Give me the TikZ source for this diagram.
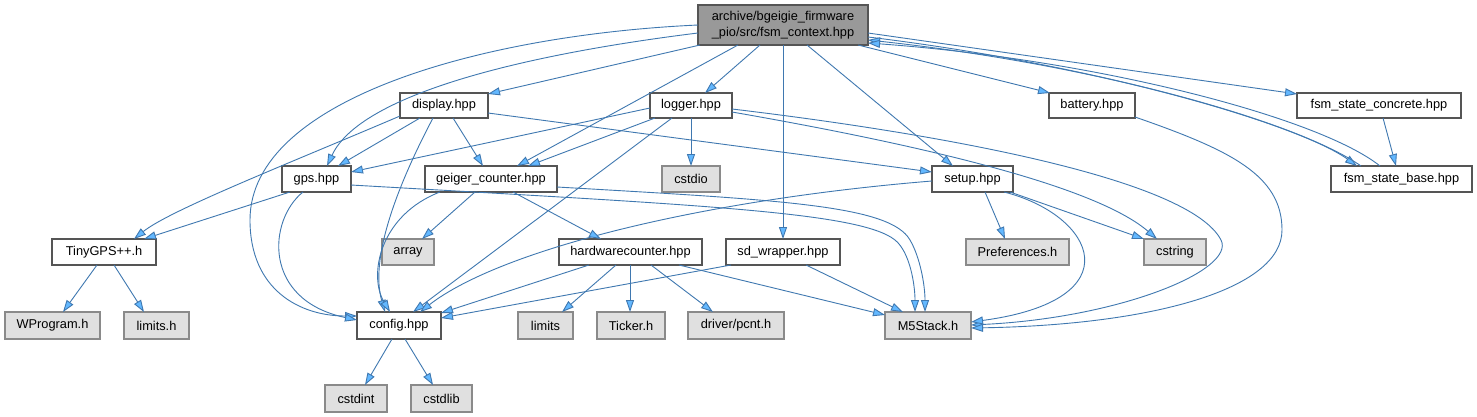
\documentclass[tikz,border=0pt]{standalone}
\usepackage{fontspec}
\setmainfont{Liberation Sans}
\usetikzlibrary{arrows.meta}
\definecolor{edgec}{HTML}{3F78B0}
\definecolor{arrowc}{HTML}{63B8FF}
\definecolor{wborder}{HTML}{555555}
\definecolor{gfill}{HTML}{E0E0E0}
\definecolor{gborder}{HTML}{8A8A8A}
\definecolor{rootfill}{HTML}{999999}
\newcommand\mknode[7]{\node[#1,anchor=north west,minimum width=#4,minimum height=#5] (#6) at (#2,#3) {#7};}
\begin{document}
\begin{tikzpicture}[x=1pt,y=-1pt,
  box/.style={rectangle,inner sep=0pt,outer sep=0pt,line width=1.2pt,font=\fontsize{12.8}{15.5}\selectfont,text=black},
  wbox/.style={box,draw=wborder,fill=white},
  gbox/.style={box,draw=gborder,fill=gfill},
  rbox/.style={box,draw=wborder,fill=rootfill,align=center},
  dep/.style={draw=edgec,line width=0.9pt,-{Triangle[length=12pt,width=8pt,fill=arrowc]}},
]
\useasboundingbox (0,0) rectangle (1477,417);
\fill[white] (0,0) rectangle (1477,417);
% nodes
\mknode{rbox}{698}{5}{170}{40}{root}{archive/bgeigie\_firmware\\\_pio/src/fsm\_context.hpp}
\mknode{wbox}{400}{93}{88}{25}{display}{display.hpp}
\mknode{wbox}{650}{93}{82}{25}{logger}{logger.hpp}
\mknode{wbox}{1049}{93}{86}{25}{battery}{battery.hpp}
\mknode{wbox}{1297}{93}{164}{25}{fsc}{fsm\_state\_concrete.hpp}
\mknode{wbox}{282}{166}{69}{26}{gps}{gps.hpp}
\mknode{wbox}{425}{166}{132}{26}{geiger}{geiger\_counter.hpp}
\mknode{gbox}{662}{166}{58}{26}{cstdio}{cstdio}
\mknode{wbox}{932}{166}{81}{26}{setup}{setup.hpp}
\mknode{wbox}{1331}{166}{141}{26}{fsb}{fsm\_state\_base.hpp}
\mknode{wbox}{52}{239}{104}{26}{tiny}{TinyGPS++.h}
\mknode{gbox}{382}{239}{52}{26}{array}{array}
\mknode{wbox}{559}{239}{143}{26}{hwc}{hardwarecounter.hpp}
\mknode{wbox}{726}{239}{114}{26}{sdw}{sd\_wrapper.hpp}
\mknode{gbox}{966}{239}{103}{26}{pref}{Preferences.h}
\mknode{gbox}{1144}{239}{62}{26}{cstring}{cstring}
\mknode{gbox}{5}{312}{95}{27}{wprog}{WProgram.h}
\mknode{gbox}{124}{312}{65}{27}{limitsh}{limits.h}
\mknode{wbox}{357}{312}{84}{27}{config}{config.hpp}
\mknode{gbox}{518}{312}{55}{27}{limits}{limits}
\mknode{gbox}{597}{312}{68}{27}{ticker}{Ticker.h}
\mknode{gbox}{688}{312}{96}{27}{pcnt}{driver/pcnt.h}
\mknode{gbox}{885}{312}{86}{27}{m5}{M5Stack.h}
\mknode{gbox}{325}{385}{62}{27}{cstdint}{cstdint}
\mknode{gbox}{411}{385}{61}{27}{cstdlib}{cstdlib}
% root edges
\draw[dep] ([shift={(2,40)}]root.north west) -- ([shift={(88,1)}]display.north west);
\draw[dep] ([shift={(62,40)}]root.north west) -- ([shift={(55,0)}]logger.north west);
\draw[dep] ([shift={(40,40)}]root.north west) -- ([shift={(92,0)}]geiger.north west);
\draw[dep] ([shift={(85,40)}]root.north west) -- ([shift={(57,0)}]sdw.north west);
\draw[dep] ([shift={(109,40)}]root.north west) -- ([shift={(21,0)}]setup.north west);
\draw[dep] ([shift={(160,40)}]root.north west) -- ([shift={(1,0)}]battery.north west);
\draw[dep] ([shift={(170,28)}]root.north west) -- ([shift={(0,1)}]fsc.north west);
\draw[dep] ([shift={(170,32)}]root.north west) .. controls (1100,65) and (1300,125) .. ([shift={(26,0)}]fsb.north west);
\draw[dep] ([shift={(30,0)}]fsb.north west) .. controls (1300,123) and (1100,65) .. ([shift={(170,35)}]root.north west);
\draw[dep] ([shift={(49,0)}]fsb.north west) .. controls (1320,118) and (1100,60) .. ([shift={(170,38)}]root.north west);
\draw[dep] ([shift={(0,28)}]root.north west) .. controls (520,55) and (360,95) .. ([shift={(45,0)}]gps.north west);
\draw[dep] ([shift={(0,20)}]root.north west) .. controls (480,35) and (250,100) .. (250,220) .. controls (250,290) and (300,316) .. ([shift={(0,4)}]config.north west);
% display
\draw[dep] ([shift={(20,25)}]display.north west) -- ([shift={(56,0)}]gps.north west);
\draw[dep] ([shift={(0,23)}]display.north west) .. controls (290,163) and (170,210) .. ([shift={(82,0)}]tiny.north west);
\draw[dep] ([shift={(53,25)}]display.north west) -- ([shift={(58,0)}]geiger.north west);
\draw[dep] ([shift={(33,25)}]display.north west) .. controls (395,190) and (370,260) .. ([shift={(28,0)}]config.north west);
\draw[dep] ([shift={(88,20)}]display.north west) -- ([shift={(0,6)}]setup.north west);
% logger
\draw[dep] ([shift={(0,15)}]logger.north west) -- ([shift={(69,6)}]gps.north west);
\draw[dep] ([shift={(5,25)}]logger.north west) -- ([shift={(103,0)}]geiger.north west);
\draw[dep] ([shift={(22,25)}]logger.north west) -- ([shift={(56,0)}]config.north west);
\draw[dep] ([shift={(41,25)}]logger.north west) -- ([shift={(29,0)}]cstdio.north west);
\draw[dep] ([shift={(82,19)}]logger.north west) .. controls (950,150) and (1100,190) .. ([shift={(13,0)}]cstring.north west);
\draw[dep] ([shift={(82,16)}]logger.north west) .. controls (950,135) and (1190,180) .. (1221,240) .. controls (1236,270) and (1120,318) .. ([shift={(86,13)}]m5.north west);
% battery
\draw[dep] ([shift={(86,24)}]battery.north west) .. controls (1230,150) and (1282,175) .. (1282,230) .. controls (1282,290) and (1150,325) .. ([shift={(86,16)}]m5.north west);
% setup
\draw[dep] ([shift={(72,26)}]setup.north west) .. controls (1095,215) and (1135,300) .. ([shift={(86,10)}]m5.north west);
\draw[dep] ([shift={(78,26)}]setup.north west) -- ([shift={(0,0)}]cstring.north west);
\draw[dep] ([shift={(53,26)}]setup.north west) -- ([shift={(39,0)}]pref.north west);
\draw[dep] ([shift={(0,15)}]setup.north west) .. controls (700,200) and (500,250) .. ([shift={(63,0)}]config.north west);
% gps
\draw[dep] ([shift={(8,26)}]gps.north west) -- ([shift={(92,0)}]tiny.north west);
\draw[dep] ([shift={(21,26)}]gps.north west) .. controls (268,220) and (262,300) .. ([shift={(0,8)}]config.north west);
\draw[dep] ([shift={(69,19)}]gps.north west) .. controls (700,205) and (860,212) .. (895,240) .. controls (910,252) and (915,285) .. ([shift={(30,0)}]m5.north west);
% geiger
\draw[dep] ([shift={(50,26)}]geiger.north west) -- ([shift={(40,0)}]array.north west);
\draw[dep] ([shift={(88,26)}]geiger.north west) -- ([shift={(42,0)}]hwc.north west);
\draw[dep] ([shift={(15,26)}]geiger.north west) .. controls (380,215) and (368,275) .. ([shift={(33,0)}]config.north west);
\draw[dep] ([shift={(132,21)}]geiger.north west) .. controls (780,200) and (890,205) .. (910,240) .. controls (920,257) and (925,285) .. ([shift={(40,0)}]m5.north west);
% hardwarecounter
\draw[dep] ([shift={(30,26)}]hwc.north west) -- ([shift={(84,1)}]config.north west);
\draw[dep] ([shift={(57,26)}]hwc.north west) -- ([shift={(44,0)}]limits.north west);
\draw[dep] ([shift={(71,26)}]hwc.north west) -- ([shift={(33,0)}]ticker.north west);
\draw[dep] ([shift={(92,26)}]hwc.north west) -- ([shift={(25,0)}]pcnt.north west);
\draw[dep] ([shift={(120,26)}]hwc.north west) -- ([shift={(0,3)}]m5.north west);
% sd_wrapper
\draw[dep] ([shift={(5,26)}]sdw.north west) -- ([shift={(84,6)}]config.north west);
\draw[dep] ([shift={(80,26)}]sdw.north west) -- ([shift={(18,0)}]m5.north west);
% TinyGPS
\draw[dep] ([shift={(45,26)}]tiny.north west) -- ([shift={(58,0)}]wprog.north west);
\draw[dep] ([shift={(62,26)}]tiny.north west) -- ([shift={(20,0)}]limitsh.north west);
% config
\draw[dep] ([shift={(35,27)}]config.north west) -- ([shift={(40,0)}]cstdint.north west);
\draw[dep] ([shift={(48,27)}]config.north west) -- ([shift={(22,0)}]cstdlib.north west);
% fsm
\draw[dep] ([shift={(86,25)}]fsc.north west) -- ([shift={(65,0)}]fsb.north west);
\end{tikzpicture}
\end{document}
